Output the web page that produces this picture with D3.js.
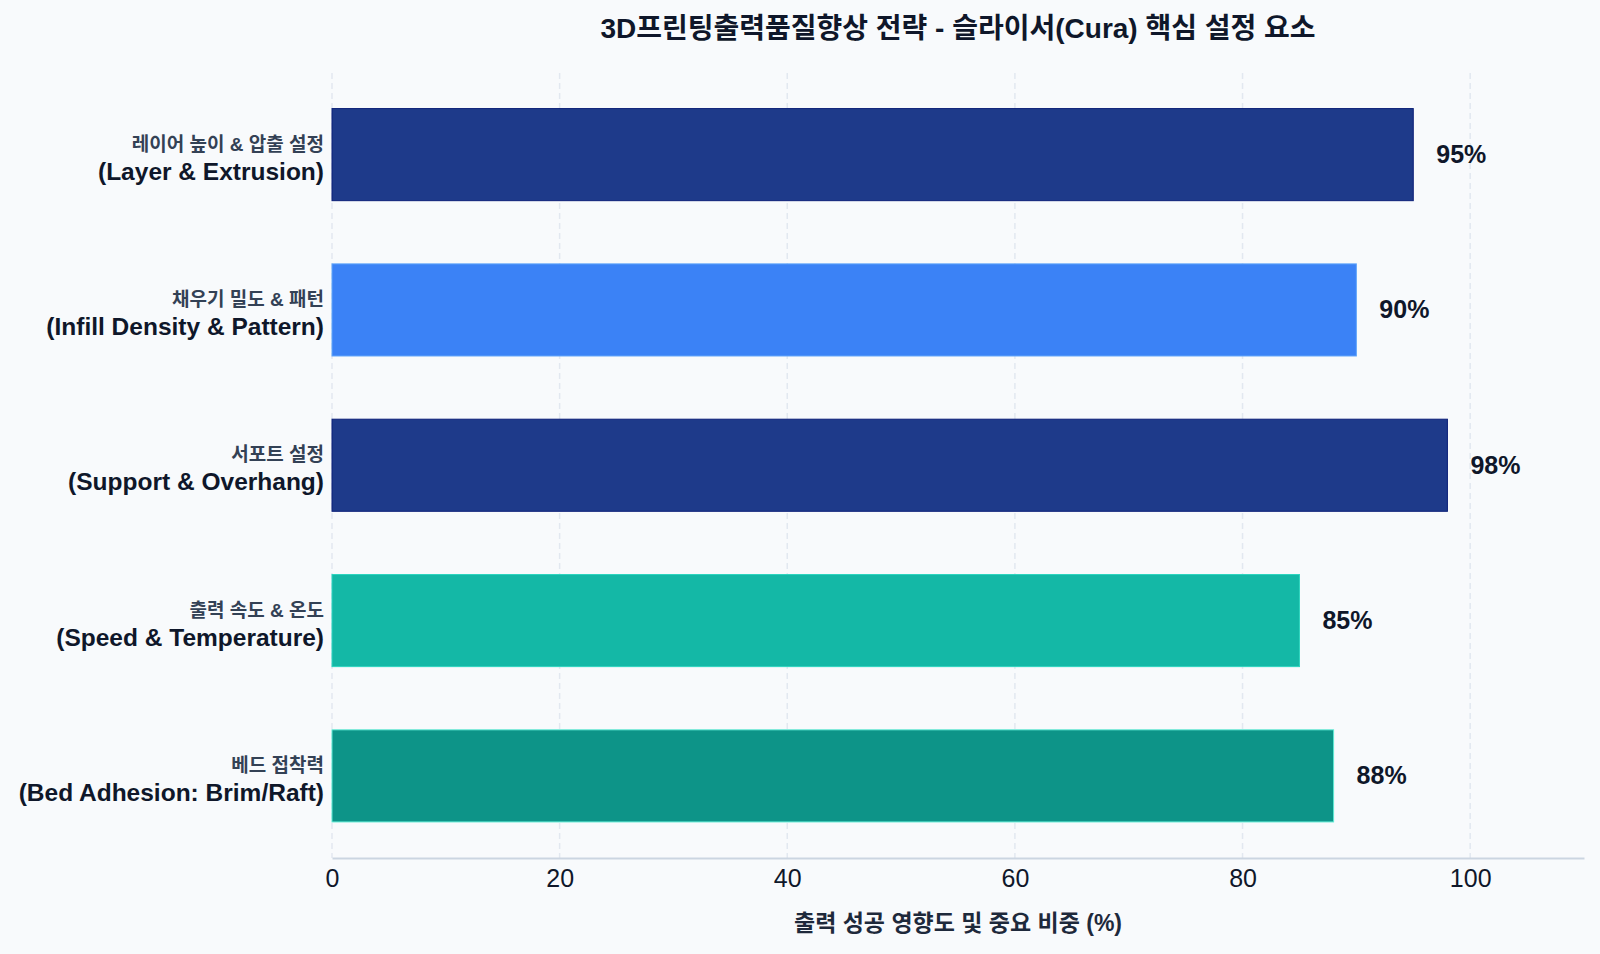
<!DOCTYPE html>
<html>
<head>
<meta charset="utf-8">
<script src="https://cdn.jsdelivr.net/npm/d3@7"></script>
<style>
  html, body { margin: 0; padding: 0; background: #f8fafc; }
  svg { display: block; font-family: "Liberation Sans", Arial, "Noto Sans CJK KR", sans-serif; }
  .grid line { stroke: #e2e8f0; stroke-width: 1.5px; stroke-dasharray: 6,4; }
  .x-axis path { stroke: #cbd5e1; stroke-width: 2px; }
  .x-axis line { display: none; }
  .x-axis text { font-size: 25px; fill: #0f172a; }
</style>
</head>
<body>
<svg id="chart" width="1600" height="954"></svg>
<script>
var width = 1600,
    height = 954;

// categories, top to bottom
var labelsKo = [
  "레이어 높이 & 압출 설정",
  "채우기 밀도 & 패턴",
  "서포트 설정",
  "출력 속도 & 온도",
  "베드 접착력"
];
var labelsEn = [
  "(Layer & Extrusion)",
  "(Infill Density & Pattern)",
  "(Support & Overhang)",
  "(Speed & Temperature)",
  "(Bed Adhesion: Brim/Raft)"
];
var values = [95, 90, 98, 85, 88];
var barColors = ["#1e3a8a", "#3b82f6", "#1e3a8a", "#14b8a6", "#0d9488"];
var barStrokes = ["#0b1f78", "#60a5fa", "#0b1f78", "#2dd4bf", "#5eead4"];
var xTicks = [0, 20, 40, 60, 80, 100];

var titleText = "3D프린팅출력품질향상 전략 - 슬라이서(Cura) 핵심 설정 요소";
var xTitleText = "출력 성공 영향도 및 중요 비중 (%)";

var margin = {left: 332, right: 16, top: 73, bottom: 96};
var plotW = width - margin.left - margin.right,
    plotB = height - margin.bottom;

var svg = d3.select("#chart");

var x = d3.scaleLinear()
    .domain([0, 110])
    .range([margin.left, margin.left + plotW]);

var y = d3.scaleBand()
    .domain(d3.range(values.length))
    .range([77.5, 853])
    .paddingInner(0.407)
    .paddingOuter(0.2);

// vertical dashed grid
svg.append("g")
    .attr("class", "grid")
  .selectAll("line")
    .data(xTicks)
    .enter().append("line")
    .attr("x1", function(d) { return x(d); })
    .attr("x2", function(d) { return x(d); })
    .attr("y1", margin.top)
    .attr("y2", plotB);

// x axis
svg.append("g")
    .attr("class", "x-axis")
    .attr("transform", "translate(0," + plotB + ")")
    .call(d3.axisBottom(x).tickValues(xTicks).tickSize(0).tickSizeOuter(0).tickPadding(11));

svg.select(".x-axis .domain").attr("stroke", "#cbd5e1");

// bars
svg.append("g").selectAll("rect")
    .data(values)
    .enter().append("rect")
    .attr("x", x(0))
    .attr("y", function(d, i) { return y(i); })
    .attr("width", function(d) { return x(d) - x(0); })
    .attr("height", y.bandwidth())
    .attr("fill", function(d, i) { return barColors[i]; })
    .attr("stroke", function(d, i) { return barStrokes[i]; })
    .attr("stroke-width", 1);

// value labels
svg.append("g").selectAll("text")
    .data(values)
    .enter().append("text")
    .attr("x", function(d) { return x(d) + 23; })
    .attr("y", function(d, i) { return y(i) + y.bandwidth() / 2 + 8.5; })
    .style("font-size", "25px")
    .style("font-weight", "bold")
    .style("fill", "#0f172a")
    .text(function(d) { return d + "%"; });

// category labels (two lines)
var cat = svg.append("g").selectAll("g")
    .data(values)
    .enter().append("g")
    .attr("transform", function(d, i) {
      return "translate(" + (x(0) - 8) + "," + (y(i) + y.bandwidth() / 2) + ")";
    });

cat.append("text")
    .attr("text-anchor", "end")
    .attr("y", -4)
    .style("font-size", "19px")
    .style("font-weight", "bold")
    .style("fill", "#334155")
    .text(function(d, i) { return labelsKo[i]; });

cat.append("text")
    .attr("text-anchor", "end")
    .attr("y", 25)
    .style("font-size", "24.5px")
    .style("font-weight", "bold")
    .style("fill", "#0f172a")
    .text(function(d, i) { return labelsEn[i]; });

// title
svg.append("text")
    .attr("x", (x.range()[0] + x.range()[1]) / 2)
    .attr("y", 38)
    .attr("text-anchor", "middle")
    .style("font-size", "28px")
    .style("font-weight", "bold")
    .style("fill", "#0f172a")
    .text(titleText);

// x axis title
svg.append("text")
    .attr("x", (x.range()[0] + x.range()[1]) / 2)
    .attr("y", 931)
    .attr("text-anchor", "middle")
    .style("font-size", "23px")
    .style("font-weight", "bold")
    .style("fill", "#1e293b")
    .text(xTitleText);
</script>
</body>
</html>
